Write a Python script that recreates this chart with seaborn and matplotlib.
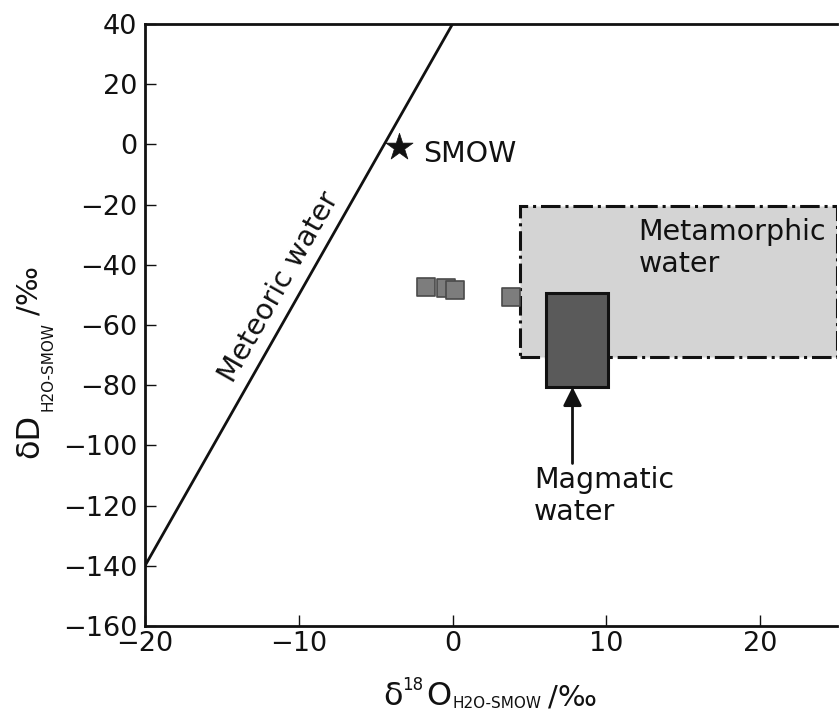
import matplotlib
matplotlib.use("Agg")
import matplotlib.pyplot as plt
import matplotlib.text as mtext
import seaborn as sns
from matplotlib.patches import Rectangle

# ---- data ----
meteoric_d18O = [-20, 0]
meteoric_dD = [-140, 40]

sample_d18O = [-1.7, -0.45, 0.15, 3.8]
sample_dD = [-47.4, -47.7, -48.4, -50.7]

smow_d18O = [-3.5]
smow_dD = [-1.0]

metamorphic_box = {"x0": 4.4, "x1": 25.0, "y0": -70.5, "y1": -20.5}
magmatic_box = {"x0": 6.1, "x1": 10.1, "y0": -80.5, "y1": -49.5}

x_ticks = [-20, -10, 0, 10, 20]
y_ticks = [-160, -140, -120, -100, -80, -60, -40, -20, 0, 20, 40]

sns.set_theme(style="white")
plt.rcParams["font.family"] = ["DejaVu Sans"]

INK = "#111111"
fig = plt.figure(figsize=(8.39, 7.13), dpi=100)
ax = fig.add_axes([145 / 839, 1 - 626 / 713, 692 / 839, 602 / 713])

# metamorphic water box
mb = metamorphic_box
ax.add_patch(Rectangle((mb["x0"], mb["y0"]), mb["x1"] - mb["x0"], mb["y1"] - mb["y0"],
                       facecolor="#d4d4d4", edgecolor=INK, lw=2.2,
                       linestyle="-.", zorder=1))
# magmatic water box
gb = magmatic_box
ax.add_patch(Rectangle((gb["x0"], gb["y0"]), gb["x1"] - gb["x0"], gb["y1"] - gb["y0"],
                       facecolor="#5a5a5a", edgecolor=INK, lw=2.2, zorder=3))

# meteoric water line
sns.lineplot(x=meteoric_d18O, y=meteoric_dD, ax=ax, color=INK, lw=2, zorder=4)

# samples
sns.scatterplot(x=sample_d18O, y=sample_dD, ax=ax, marker="s", s=155,
                color="#7d7d7d", edgecolor="#4a4a4a", linewidth=1.2, zorder=2)

# SMOW star
sns.scatterplot(x=smow_d18O, y=smow_dD, ax=ax, marker="*", s=420,
                color=INK, edgecolor=INK, linewidth=0.5, zorder=5)

fs = 20.5
ax.text(-1.9, -5.8, "SMOW", fontsize=fs, color=INK, va="baseline", ha="left")
ax.text(12.1, -31.8, "Metamorphic", fontsize=fs, color=INK, va="baseline", ha="left")
ax.text(12.1, -42.4, "water", fontsize=fs, color=INK, va="baseline", ha="left")
ax.text(5.3, -114.2, "Magmatic", fontsize=fs, color=INK, va="baseline", ha="left")
ax.text(5.3, -124.8, "water", fontsize=fs, color=INK, va="baseline", ha="left")
ax.text(-11.3, -47.5, "Meteoric water", fontsize=fs, color=INK,
        rotation=60.3, rotation_mode="anchor", ha="center", va="center")

ax.annotate("", xy=(7.8, -80.6), xytext=(7.8, -106),
            arrowprops=dict(arrowstyle="-|>", color=INK, lw=2,
                            mutation_scale=28, shrinkA=0, shrinkB=0), zorder=6)

ax.set_xlim(-20, 25)
ax.set_ylim(-160, 40)
ax.set_xticks(x_ticks)
ax.set_yticks(y_ticks)
ax.set_xticklabels([str(v).replace("-", "\u2212") for v in x_ticks])
ax.set_yticklabels([str(v).replace("-", "\u2212") for v in y_ticks])
ax.tick_params(axis="both", direction="in", length=8, width=1, colors=INK,
               labelsize=19.5, bottom=True, left=True, top=False, right=False)
ax.tick_params(axis="x", pad=3.5)
ax.tick_params(axis="y", pad=5.5)

for side in ["left", "bottom", "top"]:
    ax.spines[side].set_color(INK)
    ax.spines[side].set_linewidth(2)
ax.spines["right"].set_visible(False)

# ---- axis labels built from pieces (big symbol, small sub/superscripts) ----
MAIN, SMALL = 23, 11

# x label: δ^18 O_H2O-SMOW /‰
x0, base = 383, 8
prev = fig.add_artist(mtext.Annotation(
    "δ", xy=(x0, base), xycoords="figure pixels", fontsize=MAIN, color=INK,
    ha="left", va="baseline"))
pieces_x = [("18", SMALL + 1, 23, 0), ("O", MAIN, base, 3),
            ("H2O-SMOW", SMALL, 5, 1), ("/‰", MAIN - 2, base, 6)]
for txt, size, yb, gap in pieces_x:
    prev = fig.add_artist(mtext.Annotation(
        txt, xy=(1, yb), xycoords=(prev, "figure pixels"),
        xytext=(gap, 0), textcoords="offset pixels",
        fontsize=size, color=INK, ha="left", va="baseline"))

# y label: δD_H2O-SMOW /‰ (rotated)
ybase, y0 = 38, 255
prev = fig.add_artist(mtext.Annotation(
    "δD", xy=(ybase, y0), xycoords="figure pixels", fontsize=MAIN, color=INK,
    ha="left", va="baseline", rotation=90, rotation_mode="anchor"))
pieces_y = [("H2O-SMOW", SMALL, 53, 3), ("/‰", MAIN - 2, ybase, 7)]
for txt, size, xb, gap in pieces_y:
    prev = fig.add_artist(mtext.Annotation(
        txt, xy=(xb, 1), xycoords=("figure pixels", prev),
        xytext=(0, gap), textcoords="offset pixels",
        fontsize=size, color=INK, ha="left", va="baseline",
        rotation=90, rotation_mode="anchor"))

fig.savefig("out.png", dpi=100)
